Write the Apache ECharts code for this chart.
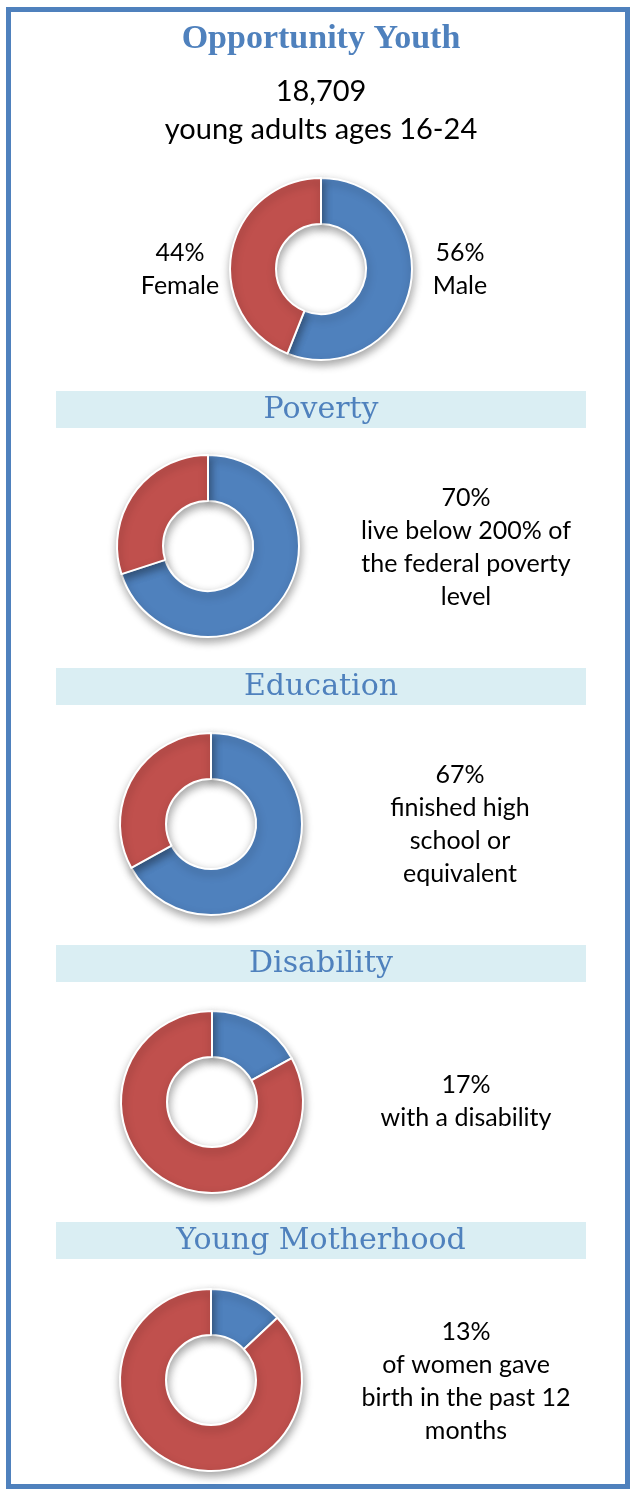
<!DOCTYPE html>
<html>
<head>
<meta charset="utf-8">
<script src="https://cdn.jsdelivr.net/npm/echarts@6/dist/echarts.min.js"></script>
<style>
html,body{margin:0;padding:0;background:#fff;}
#c{width:631px;height:1492px;}
</style>
</head>
<body>
<div id="c"></div>
<script>
// ---- data ----
const titleText = "Opportunity Youth";
const totalLines = ["18,709", "young adults ages 16-24"];
const genderNames = ["Male", "Female"];
const genderValues = [56, 44];
const sectionTitles = ["Poverty", "Education", "Disability", "Young Motherhood"];
const sectionValues = [70, 67, 17, 13];
const sectionCaptions = [
  ["70%", "live below 200% of", "the federal poverty", "level"],
  ["67%", "finished high", "school or", "equivalent"],
  ["17%", "with a disability"],
  ["13%", "of women gave", "birth in the past 12", "months"]
];

// ---- layout ----
const BLUE = "#4F81BD", RED = "#C0504D";
const chart = echarts.init(document.getElementById('c'), null, {renderer: 'canvas'});

const pieStyle = {
  borderColor: '#fff', borderWidth: 2,
  shadowBlur: 8, shadowColor: 'rgba(0,0,0,0.35)', shadowOffsetY: 4, shadowOffsetX: 1
};
function pie(center, yes, no, names) {
  return {
    type: 'pie', center: center, radius: [45, 91], startAngle: 90, clockwise: true,
    silent: true, label: {show: false}, labelLine: {show: false},
    itemStyle: pieStyle,
    data: [
      {name: names[0], value: yes, itemStyle: {color: BLUE}},
      {name: names[1], value: no, itemStyle: {color: RED}}
    ]
  };
}

const pieCenters = [[208, 546], [211, 824], [212, 1102], [211, 1380]];
const barTops = [391, 668, 945, 1222];
const captionX = [466, 460, 466, 466];
const captionTop = [498, 775, 1085, 1332];
const bodyFont = '25px Lato';

const series = [pie([321, 269], genderValues[0], genderValues[1], genderNames)];
sectionValues.forEach((v, i) => series.push(pie(pieCenters[i], v, 100 - v, ['yes', 'no'])));

const graphic = [];
graphic.push({type: 'rect', shape: {x: 8.5, y: 9.5, width: 619, height: 1477}, style: {fill: null, stroke: BLUE, lineWidth: 5}, z: 0});
graphic.push({type: 'text', x: 321, y: 39, style: {text: titleText, fill: BLUE, font: 'bold 34px "Liberation Serif"', textAlign: 'center', textVerticalAlign: 'middle'}});
graphic.push({type: 'text', x: 321, y: 92, style: {text: totalLines[0], fill: '#000', font: '29px Lato', textAlign: 'center', textVerticalAlign: 'middle'}});
graphic.push({type: 'text', x: 321, y: 130, style: {text: totalLines[1], fill: '#000', font: '29px Lato', textAlign: 'center', textVerticalAlign: 'middle'}});
graphic.push({type: 'text', x: 180, y: 253, style: {text: genderValues[1] + '%', fill: '#000', font: bodyFont, textAlign: 'center', textVerticalAlign: 'middle'}});
graphic.push({type: 'text', x: 180, y: 286, style: {text: genderNames[1], fill: '#000', font: bodyFont, textAlign: 'center', textVerticalAlign: 'middle'}});
graphic.push({type: 'text', x: 460, y: 253, style: {text: genderValues[0] + '%', fill: '#000', font: bodyFont, textAlign: 'center', textVerticalAlign: 'middle'}});
graphic.push({type: 'text', x: 460, y: 286, style: {text: genderNames[0], fill: '#000', font: bodyFont, textAlign: 'center', textVerticalAlign: 'middle'}});
sectionTitles.forEach((t, i) => {
  graphic.push({type: 'rect', shape: {x: 56, y: barTops[i], width: 530, height: 37}, style: {fill: '#DAEEF3'}, z: 1});
  graphic.push({type: 'text', x: 321, y: barTops[i] + 19, z: 2, style: {text: t, fill: BLUE, font: '30px "DejaVu Serif"', textAlign: 'center', textVerticalAlign: 'middle'}});
  sectionCaptions[i].forEach((line, j) => {
    graphic.push({type: 'text', x: captionX[i], y: captionTop[i] + j * 33, style: {text: line, fill: '#000', font: bodyFont, textAlign: 'center', textVerticalAlign: 'middle'}});
  });
});

chart.setOption({
  animation: false,
  backgroundColor: '#fff',
  series: series,
  graphic: graphic
});
</script>
</body>
</html>
